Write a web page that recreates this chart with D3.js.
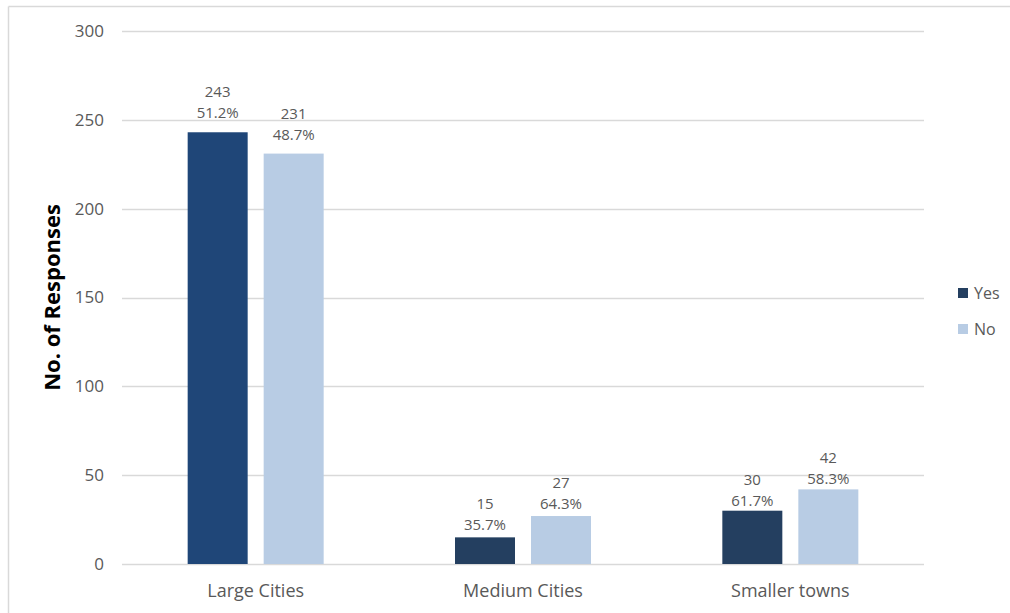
<!DOCTYPE html>
<html>
<head>
<meta charset="utf-8">
<script src="https://cdn.jsdelivr.net/npm/d3@7"></script>
<style>
  html, body { margin: 0; padding: 0; background: #fff; }
  svg { display: block; }
  text { font-family: "Open Sans", "Noto Sans", sans-serif; }
</style>
</head>
<body>
<svg id="chart" width="1010" height="613"></svg>
<script>
// Survey responses by city size
const categories = ["Large Cities", "Medium Cities", "Smaller towns"];
const seriesNames = ["Yes", "No"];
const yesValues = [243, 15, 30];
const noValues = [231, 27, 42];
const yesPercents = ["51.2%", "35.7%", "61.7%"];
const noPercents = ["48.7%", "64.3%", "58.3%"];
const yTicks = [0, 50, 100, 150, 200, 250, 300];

const yesColors = ["#1f4678", "#243f60", "#243f60"];
const legendColors = ["#243f60", "#b8cce4"];
const noColor = "#b8cce4";
const textColor = "#595959";
const gridColor = "#d9d9d9";
// gap between a bar top and the baseline of its percent label, per category
const labelGap = [14, 7, 5];

const svg = d3.select("#chart");

// outer frame (top and left edges)
svg.append("line").attr("x1", 8.5).attr("x2", 1010).attr("y1", 6.5).attr("y2", 6.5)
  .attr("stroke", gridColor).attr("stroke-width", 1.5);
svg.append("line").attr("x1", 8.5).attr("x2", 8.5).attr("y1", 6.5).attr("y2", 613)
  .attr("stroke", gridColor).attr("stroke-width", 1.5);

const plot = { left: 122, right: 924, top: 31, bottom: 564 };

const x0 = d3.scaleBand().domain(categories).range([plot.left, plot.right]).paddingInner(0).paddingOuter(0);
const y = d3.scaleLinear().domain([0, 300]).range([plot.bottom, plot.top]);

// gridlines
svg.append("g").selectAll("line").data(yTicks).join("line")
  .attr("x1", plot.left).attr("x2", plot.right)
  .attr("y1", d => Math.round(y(d)) + 0.5).attr("y2", d => Math.round(y(d)) + 0.5)
  .attr("stroke", gridColor).attr("stroke-width", 1.3);

// y tick labels
svg.append("g").selectAll("text").data(yTicks).join("text")
  .attr("x", 104).attr("y", d => y(d))
  .attr("dy", "0.35em").attr("text-anchor", "end")
  .attr("font-size", 17).attr("fill", textColor)
  .text(d => d);

// y axis title
svg.append("text")
  .attr("transform", `translate(60,${(plot.top + plot.bottom) / 2}) rotate(-90)`)
  .attr("text-anchor", "middle")
  .attr("font-size", 22).attr("font-weight", "bold").attr("fill", "#000")
  .text("No. of Responses");

// bars
const barW = 60, gap = 16;
const groups = categories.map((c, i) => {
  const cx = x0(c) + x0.bandwidth() / 2;
  return [
    { i, x: cx - gap / 2 - barW, v: yesValues[i], p: yesPercents[i], color: yesColors[i] },
    { i, x: cx + gap / 2, v: noValues[i], p: noPercents[i], color: noColor }
  ];
}).flat();

svg.append("g").selectAll("rect").data(groups).join("rect")
  .attr("x", d => d.x).attr("width", barW)
  .attr("y", d => y(d.v)).attr("height", d => y(0) - y(d.v))
  .attr("fill", d => d.color);

// value labels: count above percent
const lbl = svg.append("g").selectAll("text").data(groups).join("text")
  .attr("text-anchor", "middle").attr("font-size", 15).attr("fill", textColor);
lbl.append("tspan").attr("x", d => d.x + barW / 2).attr("y", d => y(d.v) - labelGap[d.i] - 21).text(d => d.v);
lbl.append("tspan").attr("x", d => d.x + barW / 2).attr("y", d => y(d.v) - labelGap[d.i]).text(d => d.p);

// category labels
svg.append("g").selectAll("text").data(categories).join("text")
  .attr("x", d => x0(d) + x0.bandwidth() / 2).attr("y", 597)
  .attr("text-anchor", "middle").attr("font-size", 18).attr("fill", textColor)
  .text(d => d);

// legend
const legend = svg.append("g").selectAll("g").data(seriesNames).join("g")
  .attr("transform", (d, i) => `translate(958,${293 + i * 36})`);
legend.append("rect").attr("x", 0).attr("y", -5).attr("width", 10).attr("height", 10)
  .attr("fill", (d, i) => legendColors[i]);
legend.append("text").attr("x", 16).attr("y", 0).attr("dy", "0.35em")
  .attr("font-size", 16).attr("fill", textColor).text(d => d);
</script>
</body>
</html>
